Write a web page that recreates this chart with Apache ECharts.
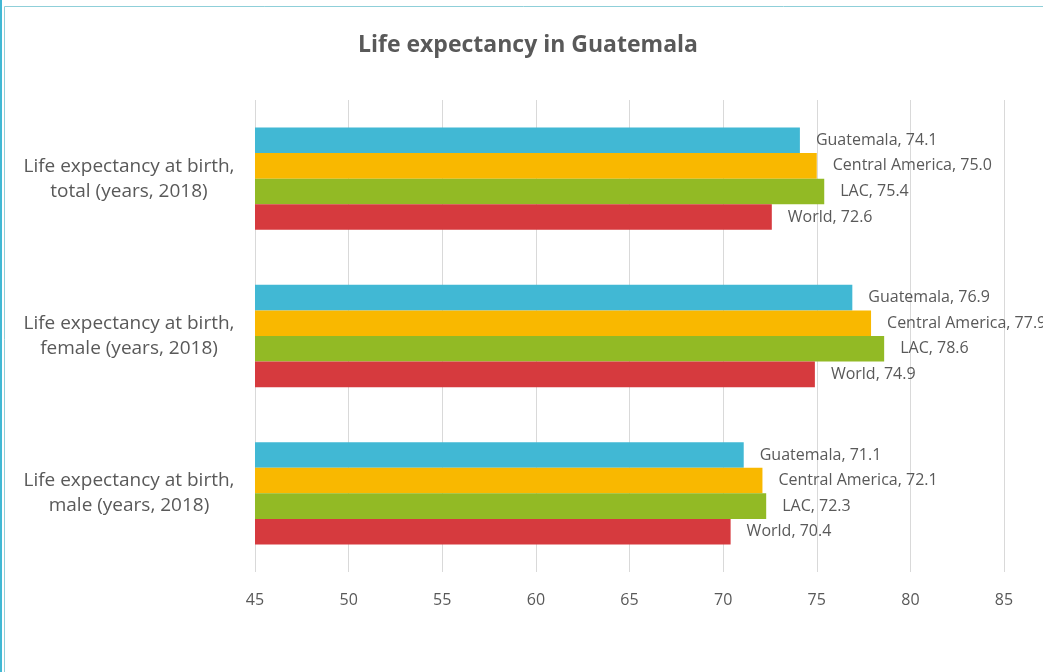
<!DOCTYPE html>
<html>
<head>
<meta charset="utf-8">
<script src="https://cdn.jsdelivr.net/npm/echarts@6/dist/echarts.min.js"></script>
<style>
  html, body { margin: 0; padding: 0; background: #fff; }
  #main { width: 1043px; height: 672px; }
</style>
</head>
<body>
<div id="main"></div>
<script>
const categories = [
  'Life expectancy at birth,\ntotal (years, 2018)',
  'Life expectancy at birth,\nfemale (years, 2018)',
  'Life expectancy at birth,\nmale (years, 2018)'
]
const seriesNames = ['Guatemala', 'Central America', 'LAC', 'World']
const guatemala = [74.1, 76.9, 71.1]
const centralAmerica = [75.0, 77.9, 72.1]
const lac = [75.4, 78.6, 72.3]
const world = [72.6, 74.9, 70.4]
const colors = ['#41b8d4', '#f9b800', '#92ba25', '#d63a3e']

const textColor = '#595959'
const font = '"Open Sans", Lato, sans-serif'

let chartDom = document.getElementById('main')
let myChart = echarts.init(chartDom)

const makeSeries = (name, data, i) => ({
  name: name,
  type: 'bar',
  data: data,
  barGap: '0%',
  barCategoryGap: '35%',
  itemStyle: { color: colors[i] },
  label: {
    show: true,
    position: 'right',
    distance: 16,
    color: textColor,
    fontFamily: font,
    fontSize: 16,
    formatter: (p) => p.seriesName + ', ' + p.value.toFixed(1)
  }
})

let option = {
  animation: false,
  title: {
    text: 'Life expectancy in Guatemala',
    left: 353,
    top: 29,
    textStyle: { color: textColor, fontFamily: font, fontSize: 23, fontWeight: 'bold' }
  },
  grid: { left: 255, right: 39, top: 100, bottom: 100 },
  xAxis: {
    type: 'value',
    min: 45,
    max: 85,
    interval: 5,
    axisLine: { show: false },
    axisTick: { show: false },
    splitLine: { lineStyle: { color: '#d9d9d9' } },
    axisLabel: { color: textColor, fontFamily: font, fontSize: 16, margin: 20 }
  },
  yAxis: {
    type: 'category',
    inverse: true,
    data: categories,
    axisLine: { show: false },
    axisTick: { show: false },
    axisLabel: {
      color: textColor,
      fontFamily: font,
      fontSize: 19,
      align: 'center',
      margin: 126,
      lineHeight: 25,
      padding: [3, 0, 0, 0]
    }
  },
  series: [
    makeSeries(seriesNames[0], guatemala, 0),
    makeSeries(seriesNames[1], centralAmerica, 1),
    makeSeries(seriesNames[2], lac, 2),
    makeSeries(seriesNames[3], world, 3)
  ],
  graphic: [
    { type: 'rect', shape: { x: 0, y: 0, width: 2, height: 672 }, style: { fill: '#41b8d4' } },
    { type: 'line', shape: { x1: 4.5, y1: 6.5, x2: 1043, y2: 6.5 }, style: { stroke: '#8fcfd9', lineWidth: 1 } },
    { type: 'line', shape: { x1: 4.5, y1: 6.5, x2: 4.5, y2: 672 }, style: { stroke: '#8fcfd9', lineWidth: 1 } }
  ]
}

option && myChart.setOption(option)
</script>
</body>
</html>
